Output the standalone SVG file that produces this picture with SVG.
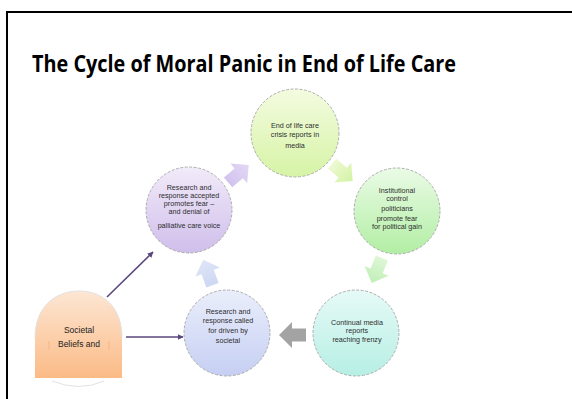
<svg xmlns="http://www.w3.org/2000/svg" width="572" height="399" viewBox="0 0 572 399">
<defs>
<linearGradient id="gTop" x1="0" y1="0" x2="0" y2="1"><stop offset="0" stop-color="#f4fbe0"/><stop offset="1" stop-color="#d6f4a6"/></linearGradient>
<linearGradient id="gRight" x1="0" y1="0" x2="0" y2="1"><stop offset="0" stop-color="#eafbe6"/><stop offset="1" stop-color="#b2eea4"/></linearGradient>
<linearGradient id="gBR" x1="0" y1="0" x2="0" y2="1"><stop offset="0" stop-color="#e6faf7"/><stop offset="1" stop-color="#b6efe4"/></linearGradient>
<linearGradient id="gBL" x1="0" y1="0" x2="0" y2="1"><stop offset="0" stop-color="#eaeefb"/><stop offset="1" stop-color="#c6cff3"/></linearGradient>
<linearGradient id="gLeft" x1="0" y1="0" x2="0" y2="1"><stop offset="0" stop-color="#f2ebf9"/><stop offset="1" stop-color="#cfbeeb"/></linearGradient>
<linearGradient id="gSoc" x1="0" y1="0" x2="0" y2="1"><stop offset="0" stop-color="#fde6d4"/><stop offset="1" stop-color="#fbbb86"/></linearGradient>
<linearGradient id="aPurple" x1="0" y1="0" x2="1" y2="0"><stop offset="0" stop-color="#d2c3ee"/><stop offset="1" stop-color="#e2d8f5"/></linearGradient>
<linearGradient id="aYG" x1="0" y1="0" x2="1" y2="0"><stop offset="0" stop-color="#eef9d2"/><stop offset="1" stop-color="#d2f2a4"/></linearGradient>
<linearGradient id="aGreen" x1="0" y1="0" x2="1" y2="0"><stop offset="0" stop-color="#def7d6"/><stop offset="1" stop-color="#bfeeb6"/></linearGradient>
<linearGradient id="aBlue" x1="0" y1="0" x2="1" y2="0"><stop offset="0" stop-color="#cdd7f3"/><stop offset="1" stop-color="#e0e6f8"/></linearGradient>
<marker id="ah" viewBox="0 0 10 10" refX="9" refY="5" markerWidth="6" markerHeight="6" orient="auto" markerUnits="userSpaceOnUse"><path d="M0,0 L10,5 L0,10 Z" fill="#5a477f"/></marker>
<path id="blk" d="M-13,-6.5 L1,-6.5 L1,-13 L14,0 L1,13 L1,6.5 L-13,6.5 Z"/>
</defs>
<style>
.node circle{stroke:#9a9a9a;stroke-width:0.8;stroke-dasharray:3 1.5}
.t{font-family:"Liberation Sans","DejaVu Sans",sans-serif;font-size:7.2px;fill:#2e2e2e;text-anchor:middle}
.conn line{stroke:#5a477f;stroke-width:1.6}
</style>
<rect x="7" y="12" width="620" height="500" fill="none" stroke="#000" stroke-width="2"/>
<text x="32" y="72" font-family="'Open Sans','Liberation Sans',sans-serif" font-weight="bold" font-size="23" fill="#000" textLength="424" lengthAdjust="spacingAndGlyphs">The Cycle of Moral Panic in End of Life Care</text>

<g id="cycle-arrows">
<use href="#blk" fill="url(#aPurple)" transform="translate(238,174) rotate(-40)"/>
<use href="#blk" fill="url(#aYG)" transform="translate(342,172) rotate(40)"/>
<use href="#blk" fill="url(#aGreen)" transform="translate(377,270) rotate(112)"/>
<use href="#blk" fill="#a3a3a3" transform="translate(293,335) rotate(180)"/>
<use href="#blk" fill="url(#aBlue)" transform="translate(208,273) rotate(-110)"/>
</g>

<g id="n-top" class="node">
<circle cx="295" cy="133" r="44" fill="url(#gTop)"/>
<text class="t" x="295" y="128">End of life care</text>
<text class="t" x="295" y="137">crisis reports in</text>
<text class="t" x="295" y="148">media</text>
</g>
<g id="n-right" class="node">
<circle cx="397" cy="211" r="43" fill="url(#gRight)"/>
<text class="t" x="397" y="193">Institutional</text>
<text class="t" x="397" y="201">control</text>
<text class="t" x="397" y="211">politicians</text>
<text class="t" x="397" y="221">promote fear</text>
<text class="t" x="397" y="229">for political gain</text>
</g>
<g id="n-bottomright" class="node">
<circle cx="356" cy="333" r="43" fill="url(#gBR)"/>
<text class="t" x="357" y="325">Continual media</text>
<text class="t" x="357" y="333">reports</text>
<text class="t" x="357" y="342">reaching frenzy</text>
</g>
<g id="n-bottomleft" class="node">
<circle cx="227" cy="333" r="43" fill="url(#gBL)"/>
<text class="t" x="228" y="314">Research and</text>
<text class="t" x="228" y="323">response called</text>
<text class="t" x="228" y="333">for driven by</text>
<text class="t" x="228" y="343">societal</text>
</g>
<g id="n-left" class="node">
<circle cx="189" cy="210" r="43" fill="url(#gLeft)"/>
<text class="t" x="189" y="190" font-size="6.6">Research and</text>
<text class="t" x="189" y="198" font-size="6.6">response accepted</text>
<text class="t" x="189" y="206" font-size="6.6">promotes fear –</text>
<text class="t" x="189" y="214" font-size="6.6">and denial of</text>
<text class="t" x="189" y="228" font-size="6.6">palliative care voice</text>
</g>

<g id="n-societal">
<path d="M35,378 L35,338 C35,307 55,291 79,291 C103,291 122,307 122,338 L122,378 Z" fill="url(#gSoc)"/>
<path d="M35,338 C35,307 55,291 79,291 C103,291 122,307 122,338" fill="none" stroke="#e2e2e2" stroke-width="1"/>
<path d="M52,381 Q79,392 104,381" fill="none" stroke="#e2e2e2" stroke-width="1"/>
<line x1="49" y1="341" x2="49" y2="350" stroke="#f3b080" stroke-width="0.8"/>
<line x1="109" y1="341" x2="109" y2="350" stroke="#f3b080" stroke-width="0.8"/>
<text x="79" y="333" font-family="'Liberation Sans',sans-serif" font-size="8.5" fill="#222" text-anchor="middle">Societal</text>
<text x="79" y="347" font-family="'Liberation Sans',sans-serif" font-size="8.5" fill="#222" text-anchor="middle">Beliefs and</text>
</g>

<g id="connectors" class="conn">
<line x1="107" y1="297" x2="153" y2="252" marker-end="url(#ah)"/>
<line x1="126" y1="337" x2="183" y2="337" marker-end="url(#ah)"/>
</g>
</svg>
